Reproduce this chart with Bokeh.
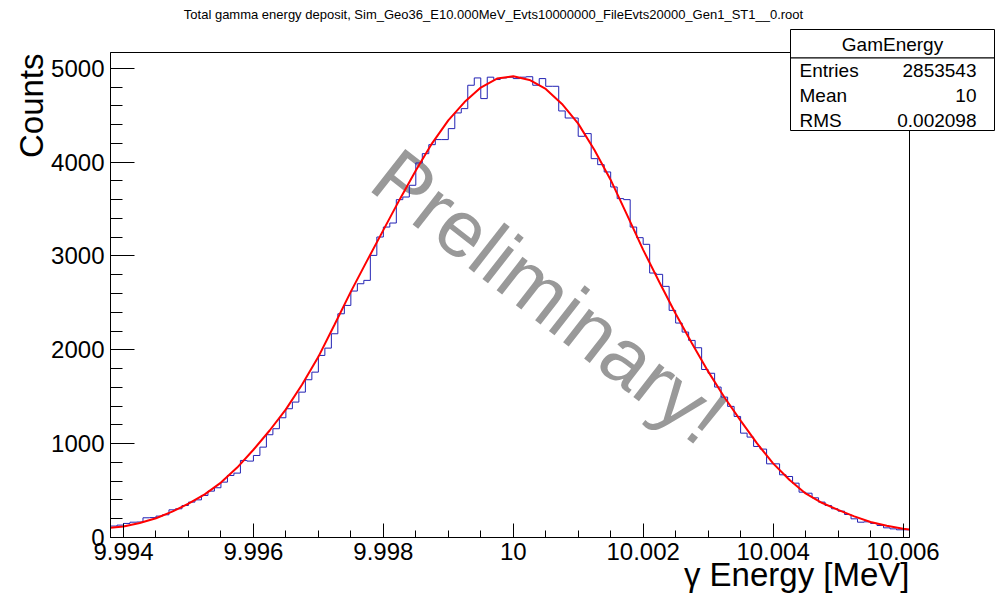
import numpy as np
from bokeh.plotting import figure
from bokeh.models import Range1d, FixedTicker, Label, BoxAnnotation, LinearAxis
from bokeh.embed import file_html
from bokeh.resources import INLINE

# ---- histogram: GamEnergy, 123 bins of 0.0001 MeV starting at 9.9938 ----
x_min = 9.9938
bin_width = 0.0001
counts = [
    122, 132, 150, 163, 165, 210, 212, 228, 242, 295,
    306, 341, 377, 401, 448, 494, 530, 590, 661, 686,
    821, 814, 874, 963, 1095, 1159, 1276, 1372, 1443, 1549,
    1681, 1762, 1940, 2018, 2171, 2384, 2473, 2626, 2704, 2740,
    3006, 3202, 3308, 3351, 3600, 3628, 3753, 3991, 4090, 4186,
    4240, 4240, 4357, 4524, 4570, 4819, 4897, 4677, 4905, 4880,
    4897, 4905, 4890, 4905, 4910, 4819, 4890, 4808, 4808, 4545,
    4470, 4470, 4275, 4304, 4037, 3973, 3895, 3735, 3611, 3600,
    3308, 3195, 3124, 2818, 2804, 2676, 2420, 2285, 2189, 2100,
    2022, 1790, 1750, 1603, 1496, 1397, 1290, 1112, 1070, 970,
    942, 785, 785, 668, 650, 579, 483, 472, 423, 377,
    341, 306, 281, 245, 199, 163, 167, 150, 128, 103,
    92, 82, 82,
]

# ---- fitted curve ----
fit_x = [
    9.9938, 9.99400, 9.99425, 9.99450, 9.99475, 9.99500, 9.99525, 9.99550,
    9.99575, 9.99600, 9.99625, 9.99650, 9.99675, 9.99700, 9.99725, 9.99750,
    9.99775, 9.99800, 9.99825, 9.99850, 9.99875, 9.99900, 9.99925, 9.99950,
    9.99975, 10.00000, 10.00025, 10.00050, 10.00075, 10.00100, 10.00125,
    10.00150, 10.00175, 10.00200, 10.00225, 10.00250, 10.00275, 10.00300,
    10.00325, 10.00350, 10.00375, 10.00400, 10.00425, 10.00450, 10.00475,
    10.00500, 10.00525, 10.00550, 10.00575, 10.00600, 10.0061,
]
fit_y = [
    105, 118, 155, 205, 275, 360, 460, 585,
    745, 935, 1140, 1365, 1630, 1925, 2270, 2620,
    2950, 3275, 3600, 3910, 4200, 4445, 4640, 4795,
    4890, 4915, 4875, 4780, 4620, 4410, 4130,
    3810, 3440, 3065, 2720, 2385, 2070, 1770,
    1495, 1245, 1005, 790, 615, 470, 370,
    295, 225, 165, 125, 93, 85,
]

x_ticks = [9.994, 9.996, 9.998, 10.0, 10.002, 10.004, 10.006]
x_tick_labels = ["9.994", "9.996", "9.998", "10", "10.002", "10.004", "10.006"]
y_ticks = [0, 1000, 2000, 3000, 4000, 5000]
y_tick_labels = ["0", "1000", "2000", "3000", "4000", "5000"]

title_text = ("Total gamma energy deposit, Sim_Geo36_E10.000MeV_Evts10000000_"
              "FileEvts20000_Gen1_ST1__0.root")
stats_title = "GamEnergy"
stats_names = ["Entries", "Mean", "RMS"]
stats_values = ["2853543", "10", "0.002098"]

# ---- pad geometry (pixels) ----
W, H = 995, 595
FL, FR, FT, FB = 110, 909, 52, 537      # histogram frame edges on the pad
X0, X1 = 9.9938, 10.0061                # histogram axis range
Y1 = 5168                               # histogram maximum shown
FONT = "Liberation Sans"

# the Bokeh frame spans the whole pad; the histogram frame sits inside it
kx = (X1 - X0) / (FR - FL)
ky = Y1 / (FB - FT)
x_range = Range1d(X0 - FL * kx, X1 + (W - FR) * kx)
y_range = Range1d(-(H - FB) * ky, Y1 + FT * ky)


def sy(py):
    """pad y (from top) -> screen y (from bottom)"""
    return H - py


p = figure(width=W, height=H, output_backend="svg", toolbar_location=None,
           x_range=x_range, y_range=y_range,
           x_axis_location=None, y_axis_location=None,
           min_border=0)
p.background_fill_color = "white"
p.border_fill_color = "white"
p.outline_line_color = None
p.xgrid.visible = False
p.ygrid.visible = False

# axes, ROOT style: ticks drawn inside the histogram frame
minor_x = [round(v, 4) for v in np.arange(9.9940, 10.00605, 0.0005)]
xaxis = LinearAxis(fixed_location=0, bounds=(X0, X1),
                   ticker=FixedTicker(ticks=x_ticks, minor_ticks=minor_x),
                   major_label_overrides={t: l for t, l in zip(x_ticks, x_tick_labels)})
yaxis = LinearAxis(fixed_location=X0, bounds=(0, Y1),
                   ticker=FixedTicker(ticks=y_ticks, minor_ticks=list(range(0, 5200, 200))),
                   major_label_overrides={t: l for t, l in zip(y_ticks, y_tick_labels)})
for ax in (xaxis, yaxis):
    ax.axis_line_color = "black"
    ax.major_tick_line_color = "black"
    ax.minor_tick_line_color = "black"
    ax.major_tick_out = 0
    ax.minor_tick_out = 0
    ax.major_label_text_font = FONT
    ax.major_label_text_font_size = "24px"
    ax.major_label_text_color = "black"
xaxis.major_tick_in = 14
xaxis.minor_tick_in = 7
xaxis.major_label_standoff = 5
yaxis.major_tick_in = 24
yaxis.minor_tick_in = 12
yaxis.major_label_standoff = 6
p.add_layout(xaxis, "below")
p.add_layout(yaxis, "left")

# watermark, drawn beneath the data
p.add_layout(Label(x=549, y=sy(296), x_units="screen", y_units="screen",
                   text="Preliminary!", angle=-38, angle_units="deg",
                   text_align="center", text_baseline="middle",
                   text_font=FONT, text_font_size="80px",
                   text_color="#999999", level="underlay"))

# histogram outline
edges = x_min + bin_width * np.arange(len(counts) + 1)
p.step(edges, list(counts) + [counts[-1]], mode="after",
       line_color="#2323b4", line_width=1)

# fit
p.line(fit_x, fit_y, line_color="#ff0000", line_width=2)

# histogram frame
p.add_layout(BoxAnnotation(left=X0, right=X1, bottom=0, top=Y1,
                           fill_alpha=0, line_color="black", line_width=1,
                           line_alpha=1.0))

# title
p.add_layout(Label(x=493, y=sy(14), x_units="screen", y_units="screen",
                   text=title_text, text_align="center", text_baseline="middle",
                   text_font=FONT, text_font_size="13px", text_color="black"))

# axis titles
p.add_layout(Label(x=909, y=sy(574), x_units="screen", y_units="screen",
                   text="\u03b3 Energy [MeV]", text_align="right",
                   text_baseline="alphabetic",
                   text_font=FONT, text_font_size="33px", text_color="black"))
p.add_layout(Label(x=31, y=sy(53), x_units="screen", y_units="screen",
                   text="Counts", angle=90, angle_units="deg",
                   text_align="right", text_baseline="alphabetic",
                   text_font=FONT, text_font_size="33px", text_color="black"))

# statistics box
BL, BR, BT, BS, BB = 790, 994, 29, 57.5, 130
for top, bot in ((BT, BS), (BS, BB)):
    p.add_layout(BoxAnnotation(left=BL, right=BR, top=sy(top), bottom=sy(bot),
                               left_units="screen", right_units="screen",
                               top_units="screen", bottom_units="screen",
                               fill_color="white", fill_alpha=1.0,
                               line_color="black", line_width=1, line_alpha=1.0))
p.add_layout(Label(x=(BL + BR) / 2, y=sy(43.5), x_units="screen", y_units="screen",
                   text=stats_title, text_align="center", text_baseline="middle",
                   text_font=FONT, text_font_size="19px", text_color="black"))
row_y = [70, 95, 119.5]
for name, val, ry in zip(stats_names, stats_values, row_y):
    p.add_layout(Label(x=799, y=sy(ry), x_units="screen", y_units="screen",
                       text=name, text_align="left", text_baseline="middle",
                       text_font=FONT, text_font_size="19px", text_color="black"))
    p.add_layout(Label(x=976, y=sy(ry), x_units="screen", y_units="screen",
                       text=val, text_align="right", text_baseline="middle",
                       text_font=FONT, text_font_size="19px", text_color="black"))

open("out.html", "w").write(file_html(p, INLINE))
